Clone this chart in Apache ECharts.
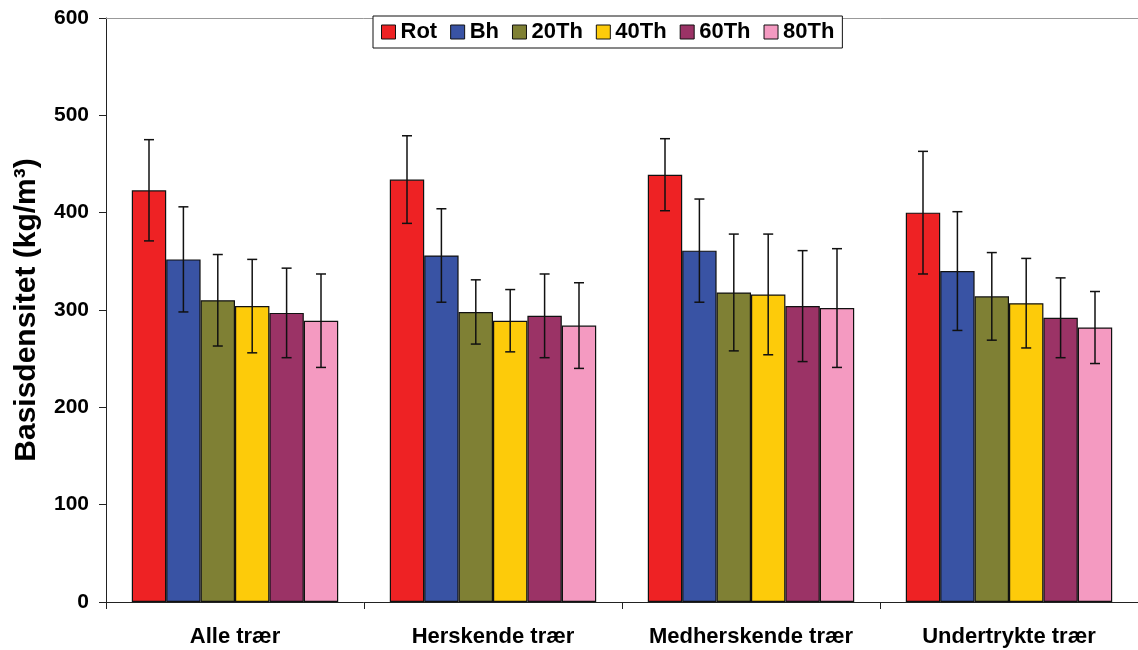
<!DOCTYPE html>
<html><head><meta charset="utf-8">
<script src="https://cdn.jsdelivr.net/npm/echarts@6/dist/echarts.min.js"></script>
<style>html,body{margin:0;padding:0;background:#fff}#c{width:1138px;height:650px}</style>
</head><body><div id="c"></div>
<script>
const categories = ['Alle trær', 'Herskende trær', 'Medherskende trær', 'Undertrykte trær'];
const seriesNames = ['Rot', 'Bh', '20Th', '40Th', '60Th', '80Th'];
const colors = ['#EE2224', '#3953A4', '#7F8034', '#FDCB0A', '#9B3366', '#F49AC1'];
const rot   = [423, 434, 439, 400];
const bh    = [352, 356, 361, 340];
const th20  = [310, 298, 318, 314];
const th40  = [304, 289, 316, 307];
const th60  = [297, 294, 304, 292];
const th80  = [289, 284, 302, 282];
const errRot  = [52, 45, 37, 63];
const errBh   = [54, 48, 53, 61];
const err20   = [47, 33, 60, 45];
const err40   = [48, 32, 62, 46];
const err60   = [46, 43, 57, 41];
const err80   = [48, 44, 61, 37];
const yTicks = [0, 100, 200, 300, 400, 500, 600];

const values = [rot, bh, th20, th40, th60, th80];
const errors = [errRot, errBh, err20, err40, err60, err80];
const FONT = '"Liberation Sans", Arial, sans-serif';

const series = [];
values.forEach((vals, i) => {
  series.push({
    name: seriesNames[i], type: 'bar', data: vals,
    barGap: '0%', barCategoryGap: '20%',
    itemStyle: { color: colors[i], borderColor: '#111', borderWidth: 1.2 },
    z: 2
  });
});
values.forEach((vals, i) => {
  series.push({
    type: 'custom', name: 'err' + i,
    data: vals.map((v, k) => [k, v - errors[i][k], v + errors[i][k]]),
    z: 5, silent: true,
    renderItem: function (params, api) {
      const band = api.size([1, 0])[0];
      const bw = band * 0.8 / 6;
      const off = (i - 2.5) * bw;
      const lo = api.coord([api.value(0), api.value(1)]);
      const hi = api.coord([api.value(0), api.value(2)]);
      const x = lo[0] + off;
      const cap = 5;
      const st = { stroke: '#111', lineWidth: 1.5 };
      return { type: 'group', children: [
        { type: 'line', shape: { x1: x, y1: lo[1], x2: x, y2: hi[1] }, style: st },
        { type: 'line', shape: { x1: x - cap, y1: lo[1], x2: x + cap, y2: lo[1] }, style: st },
        { type: 'line', shape: { x1: x - cap, y1: hi[1], x2: x + cap, y2: hi[1] }, style: st }
      ]};
    }
  });
});

const chart = echarts.init(document.getElementById('c'));
chart.setOption({
  animation: false,
  backgroundColor: '#fff',
  textStyle: { fontFamily: FONT },
  legend: {
    data: seriesNames.map((n, i) => ({ name: n, itemStyle: { color: colors[i], borderColor: '#111', borderWidth: 1 } })),
    top: 16, left: 373,
    icon: 'rect', itemWidth: 14, itemHeight: 14, itemGap: 13,
    backgroundColor: '#fff', borderColor: '#111', borderWidth: 1,
    padding: [5, 8, 5, 8],
    textStyle: { fontFamily: FONT, fontWeight: 'bold', fontSize: 22, color: '#000' },
    z: 10
  },
  grid: { left: 106, top: 18, width: 1036, height: 584, containLabel: false },
  xAxis: [{
    type: 'category', data: categories,
    axisLine: { lineStyle: { color: '#222', width: 1 } },
    axisTick: { show: true, length: 7, interval: 0, alignWithLabel: false, lineStyle: { color: '#222' } },
    axisLabel: { interval: 0, fontFamily: FONT, fontWeight: 'bold', fontSize: 22, color: '#000', margin: 24 }
  }, {
    type: 'category', data: categories, position: 'top',
    axisLine: { lineStyle: { color: '#999', width: 1 } },
    axisTick: { show: false }, axisLabel: { show: false }
  }],
  yAxis: {
    type: 'value', min: 0, max: 600, interval: 100,
    name: 'Basisdensitet (kg/m³)', nameLocation: 'middle', nameGap: 64,
    nameTextStyle: { fontFamily: FONT, fontWeight: 'bold', fontSize: 30, color: '#000' },
    axisLine: { show: true, lineStyle: { color: '#222', width: 1 } },
    axisTick: { show: true, length: 7, lineStyle: { color: '#222' } },
    axisLabel: { fontFamily: FONT, fontWeight: 'bold', fontSize: 21, color: '#000', margin: 17,
      formatter: v => yTicks.includes(v) ? String(v) : '' },
    splitLine: { show: false }
  },
  series: series
});
</script></body></html>
